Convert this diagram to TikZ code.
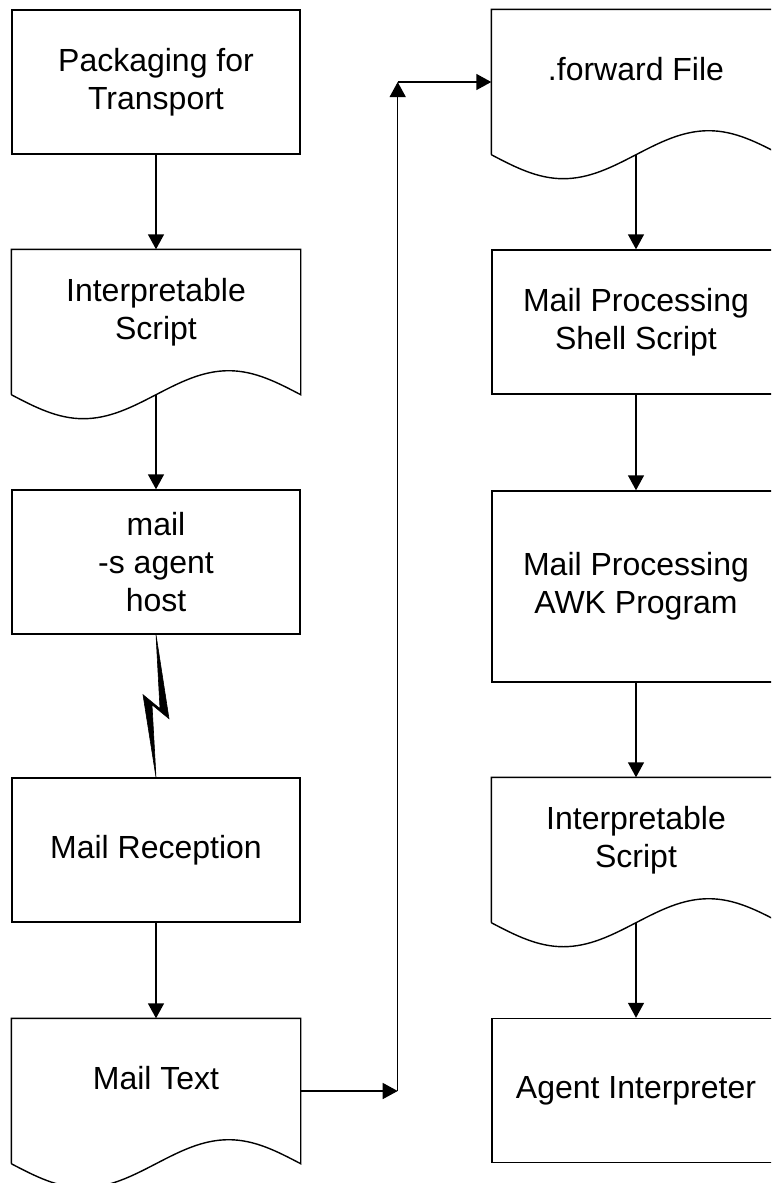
\documentclass[tikz,border=0pt]{standalone}
\usepackage{fontspec}
\setmainfont{Liberation Sans}
\usetikzlibrary{arrows.meta,calc}

\tikzset{
  box/.style={draw, rectangle, minimum width=288pt, minimum height=144pt, inner sep=0pt, align=center},
  doc/.style={rectangle, minimum width=288pt, minimum height=144pt, inner sep=0pt, align=center, text depth=26pt},
  flow/.style={-{Triangle[length=15pt,width=16pt]}},
  bolt/.style={fill=black, line width=0.6pt},
}

% page-like outline with a wavy lower edge
\newcommand{\docoutline}[1]{%
  \draw (#1.south west) -- (#1.north west) -- (#1.north east) -- (#1.south east)
    sin ([xshift=-72pt,yshift=24pt]#1.south east)
    cos (#1.south)
    sin ([xshift=72pt,yshift=-24pt]#1.south west)
    cos (#1.south west);
}

\begin{document}
\begin{tikzpicture}[x=1pt, y=-1pt, line width=1.4pt, font=\fontsize{32}{38}\selectfont]
  \useasboundingbox (0,0) rectangle (771,1183);
  \clip (0,0) rectangle (771,1183);

  % sending side
  \node[box] (pack) at (156,82) {Packaging for\\Transport};
  \node[doc] (is1) at (156,322) {Interpretable\\Script};
  \docoutline{is1}
  \node[box] (mail) at (156,562) {mail\\-s agent\\host};
  \node[box] (recv) at (156,850) {Mail Reception};
  \node[doc] (mtext) at (156,1091) {Mail Text};
  \docoutline{mtext}

  % receiving side
  \node[doc] (fwd) at (636,82) {.forward File};
  \docoutline{fwd}
  \node[box] (shell) at (636,322) {Mail Processing\\Shell Script};
  \node[box, minimum height=191pt] (awk) at (636,586.5) {Mail Processing\\AWK Program};
  \node[doc] (is2) at (636,850) {Interpretable\\Script};
  \docoutline{is2}
  \node[box] (agent) at (636,1090.5) {Agent Interpreter};

  \coordinate (lo) at ($(mtext.east)+(97,0)$);
  \coordinate (hi) at (lo |- fwd.west);

  \draw[flow] (pack) -- (is1);
  \draw[flow] (is1) -- (mail);
  \filldraw[bolt] (mail.south) -- ($(mail.south)+(13,84)$) -- ($(mail.south)+(-4,70)$)
    -- (recv.north) -- ($(mail.south)+(-13,60)$) -- ($(mail.south)+(4,74)$) -- cycle;
  \draw[flow] (recv) -- (mtext);
  \draw[flow] (mtext.east) -- (lo);
  \draw[flow] (lo) -- (hi);
  \draw[flow] (hi) -- (fwd.west);
  \draw[flow] (fwd) -- (shell);
  \draw[flow] (shell) -- (awk);
  \draw[flow] (awk) -- (is2);
  \draw[flow] (is2) -- (agent);
\end{tikzpicture}
\end{document}
